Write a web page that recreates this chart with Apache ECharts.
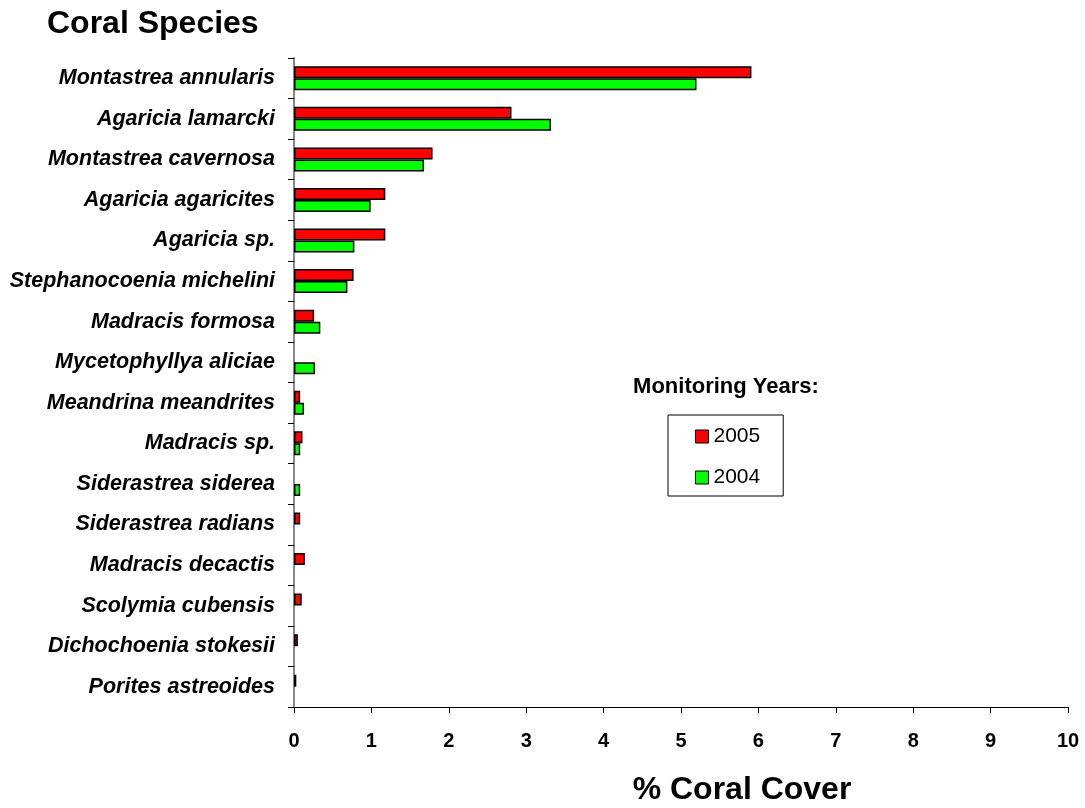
<!DOCTYPE html>
<html><head><meta charset="utf-8">
<script src="https://cdn.jsdelivr.net/npm/echarts@6/dist/echarts.min.js"></script>
<style>html,body{margin:0;padding:0;background:#fff}#c{width:1085px;height:808px}</style>
</head><body><div id="c"></div>
<script>
const categories = ["Montastrea annularis","Agaricia lamarcki","Montastrea cavernosa","Agaricia agaricites","Agaricia sp.","Stephanocoenia michelini","Madracis formosa","Mycetophyllya aliciae","Meandrina meandrites","Madracis sp.","Siderastrea siderea","Siderastrea radians","Madracis decactis","Scolymia cubensis","Dichochoenia stokesii","Porites astreoides"];
const values2005 = [5.91,2.81,1.79,1.18,1.18,0.77,0.26,null,0.08,0.11,null,0.08,0.14,0.10,0.05,0.03];
const values2004 = [5.20,3.32,1.68,0.99,0.78,0.69,0.34,0.27,0.13,0.08,0.08,null,null,null,null,null];
const xTicks = [0,1,2,3,4,5,6,7,8,9,10];
const F = "'Liberation Sans', Arial, sans-serif";
const chart = echarts.init(document.getElementById('c'));
chart.setOption({
  animation:false,
  textStyle:{fontFamily:F},
  title:[
    {text:'Coral Species',left:47,top:8,padding:0,textStyle:{fontFamily:F,fontSize:32,fontWeight:'bold',color:'#000'}},
    {text:'% Coral Cover',left:742,top:774,padding:0,textAlign:'center',textStyle:{fontFamily:F,fontSize:32,fontWeight:'bold',color:'#000'}},
    {text:'Monitoring Years:',left:726,top:376,padding:0,textAlign:'center',textStyle:{fontFamily:F,fontSize:22,fontWeight:'bold',color:'#000'}}
  ],
  legend:{
    orient:'vertical',left:668,top:415,
    data:['2005','2004'],
    borderColor:'#000',borderWidth:1,
    padding:[11,23,8,27],itemGap:20,
    itemWidth:13,itemHeight:13,icon:'rect',
    itemStyle:{borderColor:'#000',borderWidth:1},
    textStyle:{fontFamily:F,fontSize:21,color:'#000'}
  },
  grid:{left:294,right:17,top:58,bottom:101,containLabel:false},
  xAxis:{
    type:'value',min:0,max:10,interval:1,
    axisLine:{show:true,lineStyle:{color:'#000',width:1}},
    axisTick:{show:true,length:6,lineStyle:{color:'#000'}},
    splitLine:{show:false},
    axisLabel:{fontFamily:F,fontSize:20,fontWeight:'bold',color:'#000',margin:24,
      formatter:v=>xTicks.indexOf(v)>=0?String(v):''}
  },
  yAxis:{
    type:'category',data:categories,inverse:true,
    axisLine:{show:true,lineStyle:{color:'#888',width:2}},
    axisTick:{show:true,length:6,lineStyle:{color:'#000'}},
    axisLabel:{fontFamily:F,fontSize:21.5,fontWeight:'bold',fontStyle:'italic',color:'#000',margin:19}
  },
  series:[
    {name:'2005',type:'bar',data:values2005,barWidth:12,barGap:'0%',
      itemStyle:{color:'#ff0000',borderColor:'#000',borderWidth:1.5}},
    {name:'2004',type:'bar',data:values2004,barWidth:12,barGap:'0%',
      itemStyle:{color:'#00ff00',borderColor:'#000',borderWidth:1.5}}
  ]
});
</script></body></html>
